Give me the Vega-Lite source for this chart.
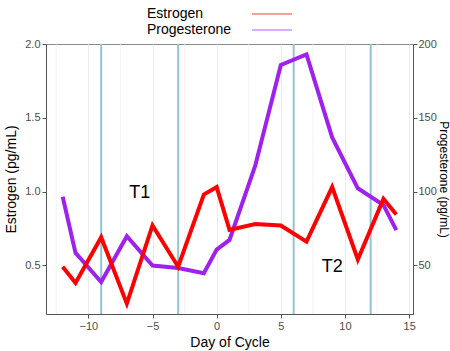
{
  "$schema": "https://vega.github.io/schema/vega-lite/v6.json",
  "width": 367,
  "height": 270,
  "autosize": {"type": "none"},
  "padding": {"left": 46, "top": 44, "right": 37, "bottom": 37},
  "background": "white",
  "config": {
    "font": "Liberation Sans",
    "view": {"stroke": "#8a8a8a", "strokeWidth": 1},
    "axis": {
      "labelColor": "#4d4d4d",
      "labelFontSize": 11,
      "titleFontSize": 14,
      "titleFontWeight": "normal",
      "titleColor": "#000000",
      "domainColor": "#555555",
      "tickColor": "#555555",
      "tickSize": 4,
      "labelPadding": 2,
      "labelOverlap": false,
      "gridColor": "#ebebeb",
      "gridWidth": 1
    }
  },
  "datasets": {
    "hormones": [
      {"day": -12, "hormone": "Estrogen", "value": 0.49},
      {"day": -11, "hormone": "Estrogen", "value": 0.38},
      {"day": -9, "hormone": "Estrogen", "value": 0.69},
      {"day": -7, "hormone": "Estrogen", "value": 0.24},
      {"day": -5, "hormone": "Estrogen", "value": 0.77},
      {"day": -3, "hormone": "Estrogen", "value": 0.49},
      {"day": -1, "hormone": "Estrogen", "value": 0.98},
      {"day": 0, "hormone": "Estrogen", "value": 1.03},
      {"day": 1, "hormone": "Estrogen", "value": 0.74},
      {"day": 3, "hormone": "Estrogen", "value": 0.78},
      {"day": 5, "hormone": "Estrogen", "value": 0.77},
      {"day": 7, "hormone": "Estrogen", "value": 0.66},
      {"day": 9, "hormone": "Estrogen", "value": 1.03},
      {"day": 11, "hormone": "Estrogen", "value": 0.54},
      {"day": 13, "hormone": "Estrogen", "value": 0.95},
      {"day": 14, "hormone": "Estrogen", "value": 0.845},
      {"day": -12, "hormone": "Progesterone", "value": 96.5},
      {"day": -11, "hormone": "Progesterone", "value": 58.4},
      {"day": -9, "hormone": "Progesterone", "value": 38.7},
      {"day": -7, "hormone": "Progesterone", "value": 69.7},
      {"day": -5, "hormone": "Progesterone", "value": 49.8},
      {"day": -3, "hormone": "Progesterone", "value": 48.2},
      {"day": -1, "hormone": "Progesterone", "value": 44.6},
      {"day": 0, "hormone": "Progesterone", "value": 60.7},
      {"day": 1, "hormone": "Progesterone", "value": 67.2},
      {"day": 3, "hormone": "Progesterone", "value": 117.3},
      {"day": 5, "hormone": "Progesterone", "value": 185.8},
      {"day": 7, "hormone": "Progesterone", "value": 192.9},
      {"day": 9, "hormone": "Progesterone", "value": 136.7},
      {"day": 11, "hormone": "Progesterone", "value": 102.2},
      {"day": 13, "hormone": "Progesterone", "value": 90.8},
      {"day": 14, "hormone": "Progesterone", "value": 73.8}
    ],
    "minorx": [{"day": -12.5}, {"day": -7.5}, {"day": -2.5}, {"day": 2.5}, {"day": 7.5}, {"day": 12.5}],
    "vlines": [{"day": -9}, {"day": -3}, {"day": 6}, {"day": 12}],
    "labels": [
      {"day": -6, "value": 0.99, "label": "T1"},
      {"day": 9, "value": 0.49, "label": "T2"}
    ]
  },
  "layer": [
    {
      "data": {"name": "minorx"},
      "mark": {"type": "rule", "color": "#ebebeb", "strokeWidth": 0.6},
      "encoding": {
        "x": {
          "field": "day",
          "type": "quantitative",
          "scale": {"domain": [-13.3, 15.3], "nice": false, "zero": false},
          "axis": {
            "title": "Day of Cycle",
            "values": [-10, -5, 0, 5, 10, 15],
            "format": "d",
            "titlePadding": 4,
            "labelFlush": false
          }
        }
      }
    },
    {
      "data": {"name": "vlines"},
      "mark": {"type": "rule", "color": "#8fc4d6", "strokeWidth": 2},
      "encoding": {
        "x": {"field": "day", "type": "quantitative"}
      }
    },
    {
      "data": {"name": "hormones"},
      "transform": [{"filter": "datum.hormone === 'Progesterone'"}],
      "mark": {"type": "line", "strokeWidth": 4},
      "encoding": {
        "x": {"field": "day", "type": "quantitative"},
        "y": {
          "field": "value",
          "type": "quantitative",
          "scale": {"domain": [17, 200], "nice": false, "zero": false},
          "axis": {
            "orient": "right",
            "title": "Progesterone (pg/mL)",
            "titleFontSize": 12,
            "values": [50, 100, 150, 200],
            "grid": false,
            "titleAngle": 90,
            "labelPadding": 1,
            "titlePadding": 0
          }
        },
        "color": {
          "field": "hormone",
          "type": "nominal",
          "scale": {"domain": ["Estrogen", "Progesterone"], "range": ["#ff0000", "#a020f0"]},
          "legend": {
            "orient": "none",
            "legendX": 219,
            "legendY": -37,
            "title": null,
            "direction": "vertical",
            "symbolType": "M-4,0H4",
            "symbolSize": 100,
            "symbolStrokeWidth": 1.5,
            "symbolOpacity": 0.5,
            "labelFontSize": 14,
            "labelColor": "#000000",
            "labelOffset": -132,
            "rowPadding": 2,
            "padding": 0
          }
        }
      }
    },
    {
      "data": {"name": "hormones"},
      "transform": [{"filter": "datum.hormone === 'Estrogen'"}],
      "mark": {"type": "line", "strokeWidth": 4},
      "encoding": {
        "x": {"field": "day", "type": "quantitative"},
        "y": {
          "field": "value",
          "type": "quantitative",
          "scale": {"domain": [0.17, 2.0], "nice": false, "zero": false},
          "axis": {
            "orient": "left",
            "title": "Estrogen (pg/mL)",
            "values": [0.25, 0.5, 0.75, 1.0, 1.25, 1.5, 1.75, 2.0],
            "format": ".1f",
            "labelExpr": "datum.value % 0.5 === 0 ? datum.label : ''",
            "tickColor": {"condition": {"test": "datum.value % 0.5 === 0", "value": "#555555"}, "value": "transparent"},
            "gridWidth": {"condition": {"test": "datum.value % 0.5 === 0", "value": 1}, "value": 0.6},
            "titlePadding": 6
          }
        },
        "color": {"field": "hormone", "type": "nominal"}
      }
    },
    {
      "data": {"name": "labels"},
      "mark": {"type": "text", "fontSize": 18, "color": "#000000"},
      "encoding": {
        "x": {"field": "day", "type": "quantitative"},
        "y": {
          "field": "value",
          "type": "quantitative",
          "scale": {"domain": [0.17, 2.0], "nice": false, "zero": false},
          "axis": null
        },
        "text": {"field": "label"}
      }
    }
  ],
  "resolve": {"scale": {"y": "independent"}}
}
